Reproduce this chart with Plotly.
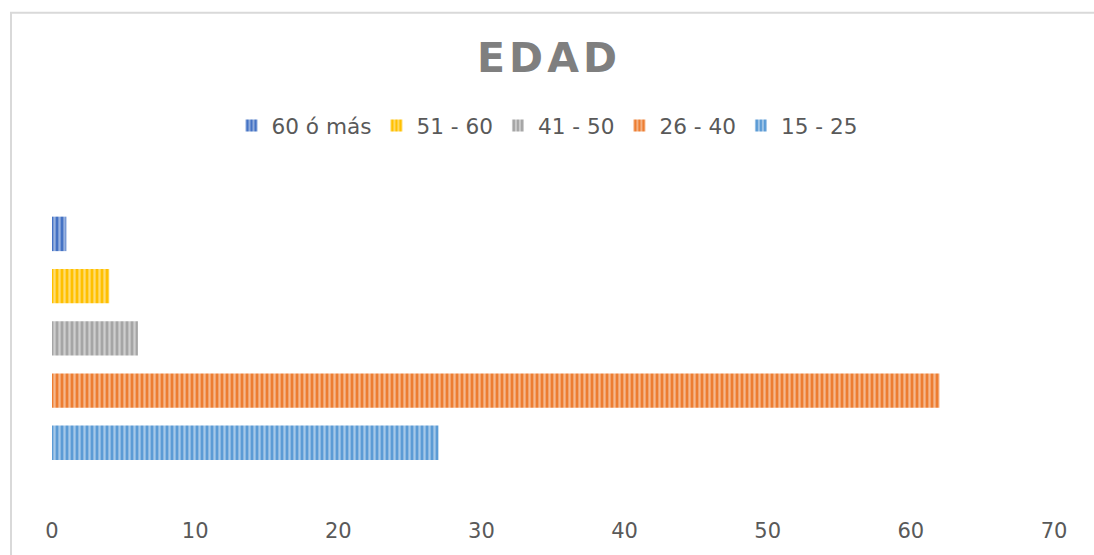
import plotly.graph_objects as go

categories = ["60 ó más", "51 - 60", "41 - 50", "26 - 40", "15 - 25"]
values = [1, 4, 6, 62, 27]
colors = ["#4472C4", "#FFC000", "#A5A5A5", "#ED7D31", "#5B9BD5"]
axis_order = ["15 - 25", "26 - 40", "41 - 50", "51 - 60", "60 ó más"]
x_ticks = [0, 10, 20, 30, 40, 50, 60, 70]

W, H = 1094, 555
ml, mr, mt, mb = 52, 40, 190, 32

fig = go.Figure()
for cat, val, col in zip(categories, values, colors):
    fig.add_trace(go.Bar(
        y=[cat], x=[val], name=cat, orientation="h",
        marker=dict(
            color=col,
            line=dict(width=0),
            pattern=dict(shape="|", size=5, solidity=0.45,
                         fgcolor="white", fgopacity=0.45,
                         bgcolor=col, fillmode="overlay"),
        ),
        hoverinfo="x+name",
    ))

pw = W - ml - mr
ph = H - mt - mb
fig.update_layout(
    width=W, height=H,
    margin=dict(l=ml, r=mr, t=mt, b=mb),
    paper_bgcolor="white", plot_bgcolor="white",
    barmode="overlay", bargap=0.34,
    title=dict(text="E\u200aD\u200aA\u200aD", x=0.5, xanchor="center",
               y=1 - 58 / H, yref="container", yanchor="middle",
               font=dict(family="DejaVu Sans", size=41, color="#7f7f7f", weight="bold")),
    legend=dict(orientation="h", x=0.5, xanchor="center", xref="container",
                y=1 - 126 / H, yref="container", yanchor="middle",
                font=dict(family="DejaVu Sans", size=21.6, color="#595959"),
                traceorder="normal"),
    xaxis=dict(range=[0, 70], tickvals=x_ticks, showgrid=False, zeroline=False,
               showline=False, ticks="",
               tickfont=dict(family="DejaVu Sans", size=21, color="#595959")),
    yaxis=dict(categoryorder="array", categoryarray=axis_order,
               range=[-1.40, 4.84], showticklabels=False, showgrid=False,
               zeroline=False, showline=False, ticks=""),
    shapes=[dict(type="rect", xref="paper", yref="paper",
                 x0=(11 - ml) / pw, x1=1.2, y0=-0.3, y1=1 + (mt - 9) / ph,
                 line=dict(color="#d9d9d9", width=2), fillcolor="rgba(0,0,0,0)",
                 layer="below")],
)

fig.write_html("out.html", config={"displayModeBar": False},
               post_script="document.body.style.margin='0';document.body.style.overflow='hidden';")
